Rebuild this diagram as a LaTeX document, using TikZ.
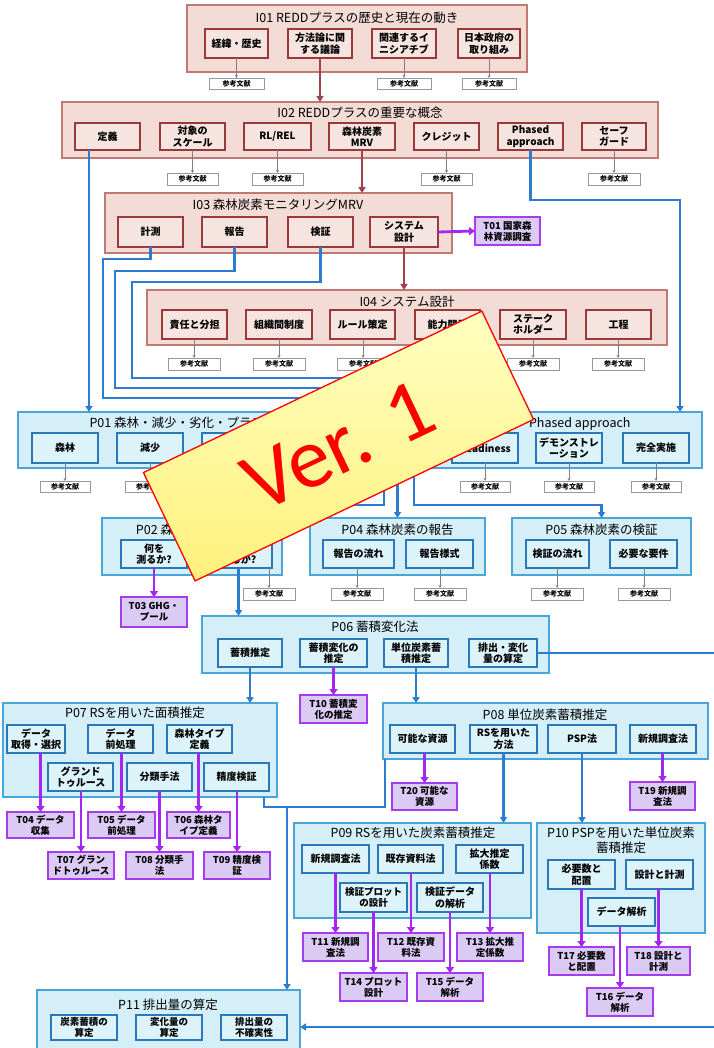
\documentclass[tikz,border=0pt]{standalone}
\usepackage{fontspec}
\setmainfont{Noto Sans CJK JP}
\newfontfamily\verfont{Carlito}
\usetikzlibrary{arrows.meta}
\definecolor{ifill}{HTML}{F3DBD6}
\definecolor{iedge}{HTML}{C07A74}
\definecolor{isedge}{HTML}{9A3A36}
\definecolor{isfill}{HTML}{F6E4E0}
\definecolor{pfill}{HTML}{D5EFF8}
\definecolor{pedge}{HTML}{4AA6D8}
\definecolor{psedge}{HTML}{2A78B8}
\definecolor{psfill}{HTML}{DDF3FA}
\definecolor{tfill}{HTML}{DACAF4}
\definecolor{tedge}{HTML}{A53CF0}
\definecolor{bline}{HTML}{2C7DD2}
\definecolor{uline}{HTML}{A526F0}
\definecolor{rline}{HTML}{A3414C}
\definecolor{vtop}{HTML}{FFFFC0}
\definecolor{vbot}{HTML}{FFF07C}
\newcommand\mkbox[7]{\node[#1, minimum width={#5-#3}, minimum height={#6-#4}] (#2) at ({(#3+#5)/2},{(#4+#6)/2}) {#7};}
\tikzset{
 base/.style={inner sep=0pt, outer sep=0pt, align=center},
 ibig/.style={base, draw=iedge, fill=ifill, line width=1.3pt},
 isub/.style={base, draw=isedge, fill=isfill, line width=1.4pt, font=\fontsize{10}{11.5}\selectfont\bfseries},
 pbig/.style={base, draw=pedge, fill=pfill, line width=1.3pt},
 psub/.style={base, draw=psedge, fill=psfill, line width=1.4pt, font=\fontsize{10}{11.5}\selectfont\bfseries},
 tbox/.style={base, draw=tedge, fill=tfill, line width=1.4pt, font=\fontsize{9.5}{11}\selectfont\bfseries},
 refbox/.style={base, draw=gray!80, fill=white, line width=0.8pt, font=\fontsize{7}{8}\selectfont\bfseries},
 ttl/.style={base, font=\fontsize{12.5}{15}\selectfont},
 redarr/.style={draw=rline, line width=2.4pt, -{Triangle[length=6pt,width=7pt]}},
 bluarr/.style={draw=bline, line width=2.4pt, -{Triangle[length=6pt,width=7pt]}},
 blu/.style={draw=bline, line width=2.4pt},
 purarr/.style={draw=uline, line width=2.8pt, -{Triangle[length=6pt,width=8pt]}},
 grayarr/.style={draw=gray, line width=0.6pt, -{Stealth[length=3pt,width=3pt]}},
}
\begin{document}
\begin{tikzpicture}[x=1pt,y=-1pt]
\useasboundingbox (0,0) rectangle (713,1048);
\fill[white] (0,0) rectangle (713,1048);

% ---------------- I01
\mkbox{ibig}{i1}{187}{5}{527}{72}{}
\node[ttl] (i1t) at (357,18) {I01 REDDプラスの歴史と現在の動き};
\mkbox{isub}{i1a}{205}{29}{268}{58}{経緯・歴史}
\mkbox{isub}{i1b}{288}{29}{352}{58}{方法論に関\\する議論}
\mkbox{isub}{i1c}{372}{29}{436}{58}{関連するイ\\ニシアチブ}
\mkbox{isub}{i1d}{458}{29}{520}{58}{日本政府の\\取り組み}
\mkbox{refbox}{r1a}{209}{78}{264}{89}{参考文献}
\mkbox{refbox}{r1c}{377}{78}{431}{89}{参考文献}
\mkbox{refbox}{r1d}{462}{78}{516}{89}{参考文献}

% ---------------- I02
\mkbox{ibig}{i2}{62}{102}{658}{158}{}
\node[ttl] (i2t) at (360,113) {I02 REDDプラスの重要な概念};
\mkbox{isub}{i2a}{75}{123}{140}{150}{定義}
\mkbox{isub}{i2b}{160}{123}{225}{150}{対象の\\スケール}
\mkbox{isub}{i2c}{244}{123}{311}{150}{RL/REL}
\mkbox{isub}{i2d}{329}{123}{395}{150}{森林炭素\\MRV}
\mkbox{isub}{i2e}{414}{123}{479}{150}{クレジット}
\mkbox{isub}{i2f}{498}{123}{563}{150}{Phased\\approach}
\mkbox{isub}{i2g}{582}{123}{646}{150}{セーフ\\ガード}
\mkbox{refbox}{r2b}{167}{173}{218}{185}{参考文献}
\mkbox{refbox}{r2c}{252}{173}{303}{185}{参考文献}
\mkbox{refbox}{r2e}{421}{173}{472}{185}{参考文献}
\mkbox{refbox}{r2g}{588}{173}{640}{185}{参考文献}

% ---------------- I03
\mkbox{ibig}{i3}{105}{193}{452}{253}{}
\node[ttl] (i3t) at (278,205) {I03 森林炭素モニタリングMRV};
\mkbox{isub}{i3a}{118}{217}{183}{247}{計測}
\mkbox{isub}{i3b}{202}{217}{267}{247}{報告}
\mkbox{isub}{i3c}{288}{217}{353}{247}{検証}
\mkbox{isub}{i3d}{370}{217}{438}{247}{システム\\設計}
\mkbox{tbox}{t01}{475}{217}{540}{245}{T01 国家森\\林資源調査}

% ---------------- I04
\mkbox{ibig}{i4}{147}{290}{667}{345}{}
\node[ttl] (i4t) at (407,302) {I04 システム設計};
\mkbox{isub}{i4a}{162}{310}{227}{339}{責任と分担}
\mkbox{isub}{i4b}{246}{310}{312}{339}{組織間制度}
\mkbox{isub}{i4c}{330}{310}{395}{339}{ルール策定}
\mkbox{isub}{i4d}{415}{310}{480}{339}{能力開発}
\mkbox{isub}{i4e}{500}{310}{566}{339}{ステーク\\ホルダー}
\mkbox{isub}{i4f}{586}{310}{651}{339}{工程}
\mkbox{refbox}{r4a}{168}{358}{220}{370}{参考文献}
\mkbox{refbox}{r4b}{253}{358}{305}{370}{参考文献}
\mkbox{refbox}{r4c}{337}{358}{389}{370}{参考文献}
\mkbox{refbox}{r4d}{421}{358}{473}{370}{参考文献}
\mkbox{refbox}{r4e}{507}{358}{559}{370}{参考文献}
\mkbox{refbox}{r4f}{592}{358}{644}{370}{参考文献}

% ---------------- P01
\mkbox{pbig}{p1}{18}{412}{702}{468}{}
\node[ttl] (p1t) at (360,424) {\makebox[541pt][s]{\mbox{P01 森林・減少・劣化・プラス・} 参照排出レベル/参照レベル \mbox{・Phased approach}}};
\mkbox{psub}{p1a}{32}{433}{98}{463}{森林}
\mkbox{psub}{p1b}{117}{433}{183}{463}{減少}
\mkbox{psub}{p1c}{202}{433}{268}{463}{劣化}
\mkbox{psub}{p1d}{287}{433}{353}{463}{プラス}
\mkbox{psub}{p1e}{372}{433}{438}{463}{Phased\\approach}
\mkbox{psub}{p1f}{452}{433}{518}{463}{Readiness}
\mkbox{psub}{p1g}{536}{433}{602}{463}{デモンストレ\\ーション}
\mkbox{psub}{p1h}{623}{433}{689}{463}{完全実施}
\mkbox{refbox}{r1pa}{40}{481}{90}{492}{参考文献}
\mkbox{refbox}{r1pb}{125}{481}{175}{492}{参考文献}
\mkbox{refbox}{r1pc}{210}{481}{260}{492}{参考文献}
\mkbox{refbox}{r1pd}{295}{481}{345}{492}{参考文献}
\mkbox{refbox}{r1pf}{460}{481}{510}{492}{参考文献}
\mkbox{refbox}{r1pg}{544}{481}{594}{492}{参考文献}
\mkbox{refbox}{r1ph}{631}{481}{681}{492}{参考文献}

% ---------------- P02, P04, P05
\mkbox{pbig}{p2}{102}{518}{282}{575}{}
\node[ttl] (p2t) at (192,530) {P02 森林炭素の計測};
\mkbox{psub}{p2a}{121}{540}{187}{568}{何を\\測るか?}
\mkbox{psub}{p2b}{205}{540}{272}{568}{どう\\測るか?}
\mkbox{tbox}{t03}{121}{597}{187}{627}{T03 GHG・\\プール}
\mkbox{refbox}{r2pb}{243}{588}{295}{600}{参考文献}

\mkbox{pbig}{p4}{310}{518}{485}{575}{}
\node[ttl] (p4t) at (397.5,530) {P04 森林炭素の報告};
\mkbox{psub}{p4a}{323}{540}{394}{568}{報告の流れ}
\mkbox{psub}{p4b}{406}{540}{473}{568}{報告様式}
\mkbox{refbox}{r4pa}{331}{588}{383}{600}{参考文献}
\mkbox{refbox}{r4pb}{414}{588}{466}{600}{参考文献}

\mkbox{pbig}{p5}{512}{518}{691}{575}{}
\node[ttl] (p5t) at (601.5,530) {P05 森林炭素の検証};
\mkbox{psub}{p5a}{526}{540}{589}{568}{検証の流れ}
\mkbox{psub}{p5b}{610}{540}{677}{568}{必要な要件}
\mkbox{refbox}{r5pa}{531}{588}{583}{600}{参考文献}
\mkbox{refbox}{r5pb}{618}{588}{670}{600}{参考文献}

% ---------------- P06
\mkbox{pbig}{p6}{202}{616}{549}{673}{}
\node[ttl] (p6t) at (375,627) {P06 蓄積変化法};
\mkbox{psub}{p6a}{218}{639}{282}{667}{蓄積推定}
\mkbox{psub}{p6b}{300}{639}{367}{667}{蓄積変化の\\推定}
\mkbox{psub}{p6c}{384}{639}{448}{667}{単位炭素蓄\\積推定}
\mkbox{psub}{p6d}{469}{639}{537}{667}{排出・変化\\量の算定}
\mkbox{tbox}{t10}{300}{695}{367}{723}{T10 蓄積変\\化の推定}

% ---------------- P07
\mkbox{pbig}{p7}{3}{703}{277}{797}{}
\node[ttl] (p7t) at (135,713) {P07 RSを用いた面積推定};
\mkbox{psub}{p7a}{7}{725}{65}{753}{データ\\取得・選択}
\mkbox{psub}{p7b}{88}{725}{153}{753}{データ\\前処理}
\mkbox{psub}{p7c}{167}{725}{232}{753}{森林タイプ\\定義}
\mkbox{psub}{p7d}{48}{763}{113}{791}{グランド\\トゥルース}
\mkbox{psub}{p7e}{127}{763}{192}{791}{分類手法}
\mkbox{psub}{p7f}{204}{763}{269}{791}{精度検証}
\mkbox{tbox}{t04}{7}{812}{74}{838}{T04 データ\\収集}
\mkbox{tbox}{t05}{88}{812}{155}{838}{T05 データ\\前処理}
\mkbox{tbox}{t06}{167}{812}{230}{838}{T06 森林タ\\イプ定義}
\mkbox{tbox}{t07}{48}{852}{114}{879}{T07 グラン\\ドトゥルース}
\mkbox{tbox}{t08}{126}{852}{193}{879}{T08 分類手\\法}
\mkbox{tbox}{t09}{204}{852}{270}{879}{T09 精度検\\証}

% ---------------- P08
\mkbox{pbig}{p8}{383}{703}{708}{759}{}
\node[ttl] (p8t) at (545,715) {P08 単位炭素蓄積推定};
\mkbox{psub}{p8a}{390}{725}{455}{753}{可能な資源}
\mkbox{psub}{p8b}{470}{725}{537}{753}{RSを用いた\\方法}
\mkbox{psub}{p8c}{548}{725}{616}{753}{PSP法}
\mkbox{psub}{p8d}{630}{725}{696}{753}{新規調査法}
\mkbox{tbox}{t20}{392}{783}{457}{810}{T20 可能な\\資源}
\mkbox{tbox}{t19}{630}{782}{695}{810}{T19 新規調\\査法}

% ---------------- P09
\mkbox{pbig}{p9}{294}{823}{531}{918}{}
\node[ttl] (p9t) at (413,833) {P09 RSを用いた炭素蓄積推定};
\mkbox{psub}{p9a}{302}{845}{369}{873}{新規調査法}
\mkbox{psub}{p9b}{378}{845}{443}{873}{既存資料法}
\mkbox{psub}{p9c}{456}{845}{523}{873}{拡大推定\\係数}
\mkbox{psub,font=\fontsize{9.5}{11}\selectfont\bfseries}{p9d}{340}{883}{407}{912}{検証プロット\\の設計}
\mkbox{psub}{p9e}{417}{883}{483}{912}{検証データ\\の解析}
\mkbox{tbox}{t11}{303}{933}{368}{961}{T11 新規調\\査法}
\mkbox{tbox}{t12}{378}{933}{444}{961}{T12 既存資\\料法}
\mkbox{tbox}{t13}{457}{933}{523}{961}{T13 拡大推\\定係数}
\mkbox{tbox}{t14}{340}{973}{407}{1001}{T14 プロット\\設計}
\mkbox{tbox}{t15}{417}{973}{483}{1001}{T15 データ\\解析}

% ---------------- P10
\mkbox{pbig}{p10}{537}{823}{705}{933}{}
\node[ttl] (p10t) at (621,840.5) {P10 PSPを用いた単位炭素\\蓄積推定};
\mkbox{psub}{p10a}{548}{860}{615}{889}{必要数と\\配置}
\mkbox{psub}{p10b}{626}{860}{693}{889}{設計と計測}
\mkbox{psub}{p10c}{588}{898}{655}{926}{データ解析}
\mkbox{tbox}{t17}{549}{947}{614}{975}{T17 必要数\\と配置}
\mkbox{tbox}{t18}{627}{947}{690}{975}{T18 設計と\\計測}
\mkbox{tbox}{t16}{587}{988}{653}{1016}{T16 データ\\解析}

% ---------------- P11
\mkbox{pbig}{p11}{37}{990}{300}{1062}{}
\node[ttl] (p11t) at (168,1005) {P11 排出量の算定};
\mkbox{psub,font=\fontsize{9.5}{11}\selectfont\bfseries}{p11a}{51}{1015}{117}{1040}{炭素蓄積の\\算定}
\mkbox{psub,font=\fontsize{9.5}{11}\selectfont\bfseries}{p11b}{136}{1015}{202}{1040}{変化量の\\算定}
\mkbox{psub,font=\fontsize{9.5}{11}\selectfont\bfseries}{p11c}{221}{1015}{287}{1040}{排出量の\\不確実性}

% ---------------- coordinates
\coordinate (cph) at (680,200);
\coordinate (k2) at (230,505);
\coordinate (j1) at (287,807);
\coordinate (e1) at (716,653);
\coordinate (e2) at (716,1027);

% ---------------- dark red arrows
\draw[redarr] (i1b.south) -- (i1b.south |- i2.north);
\draw[redarr] (i2d.south) -- (i2d.south |- i3.north);
\draw[redarr] (i3d.south) -- (i3d.south |- i4.north);

% ---------------- gray reference arrows
\foreach \s/\r in {i1a/r1a,i1c/r1c,i1d/r1d,i2b/r2b,i2c/r2c,i2e/r2e,i2g/r2g,i4a/r4a,i4b/r4b,i4c/r4c,i4d/r4d,i4e/r4e,i4f/r4f,p1a/r1pa,p1b/r1pb,p1c/r1pc,p1d/r1pd,p1f/r1pf,p1g/r1pg,p1h/r1ph,p4a/r4pa,p4b/r4pb,p5a/r5pa,p5b/r5pb}
  \draw[grayarr] (\r.north |- \s.south) -- (\r.north);
\draw[grayarr] (r2pb.north |- p2b.south) -- (r2pb.north);

% ---------------- blue connectors
\draw[bluarr] ([xshift=-18.5pt]i2a.south) -- ([xshift=-18.5pt]i2a.south |- p1.north);
\draw[bluarr] (i2f.south) |- (cph) -- (cph |- p1.north);
\draw[bluarr] (i3a.south) |- (103,259) -- (103,398) -| (384,505) -- (k2) -- (k2 |- p2.north);
\draw[bluarr] (i3b.south) |- (115,271) -- (115,388) -| (p4.north);
\draw[bluarr] (i3c.south) |- (132,282) -- (132,378) -| (414,505) -| (p5.north);
\draw[bluarr] (p2b.south) -- (p2b.south |- p6.north);
\draw[bluarr] (p6a.south) -- (p6a.south |- p7.north);
\draw[bluarr] (p6c.south) -- (p6c.south |- p8.north);
\draw[bluarr] (p6d.east) -- (e1) -- (e2) -- (e2 -| p11.east);
\draw[blu] ([xshift=-13pt]p7.south east) |- (j1);
\draw[blu] ([xshift=2pt]p8.south west) |- (j1);
\draw[bluarr] (j1) -- (j1 |- p11.north);
\draw[bluarr] (p8b.south) -- (p8b.south |- p9.north);
\draw[bluarr] (p8c.south) -- (p8c.south |- p10.north);

% ---------------- purple connectors
\draw[purarr] (i3d.east) -- (t01.west);
\draw[purarr] (p2a.south) -- (t03.north);
\draw[purarr] (p6b.south) -- (t10.north);
\foreach \s/\t in {p7a/t04,p7b/t05,p7c/t06,p7d/t07,p7e/t08,p7f/t09,p8a/t20,p8d/t19,p9a/t11,p9b/t12,p9c/t13,p9d/t14,p9e/t15,p10a/t17,p10b/t18,p10c/t16}
  \draw[purarr] (\t.north |- \s.south) -- (\t.north);

% ---------------- Ver. 1 banner
\node[rotate=25.5, minimum width=375pt, minimum height=120pt, inner sep=0pt,
      draw=red, line width=1.3pt, top color=vtop, bottom color=vbot,
      text=red, font=\verfont\fontsize{86}{86}\selectfont] (ver) at (338.5,446) {Ver. 1};
\end{tikzpicture}
\end{document}
